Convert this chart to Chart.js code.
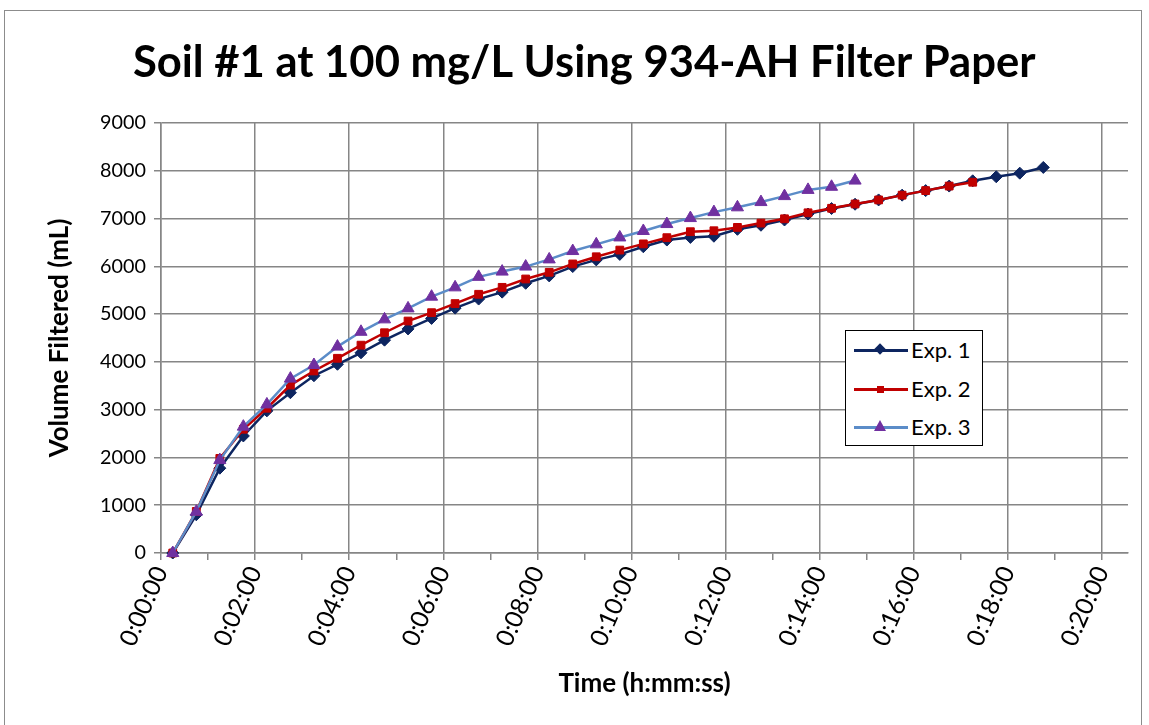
<!DOCTYPE html>
<html>
<head>
<meta charset="utf-8">
<title>Soil #1 at 100 mg/L Using 934-AH Filter Paper</title>
<script src="https://cdn.jsdelivr.net/npm/chart.js@4.4.1/dist/chart.umd.min.js"></script>
<style>
  body { margin: 0; background: #fff; }
  .chart-frame { position: relative; width: 1149px; height: 725px; overflow: hidden; background: #fff; }
  .chart-border { position: absolute; left: 4px; top: 10px; width: 1138px; height: 740px; border: 1.5px solid #8c8c8c; box-sizing: border-box; }
  #filterChart { position: absolute; left: 0; top: 0; }
  .legend-box { position: absolute; left: 845px; top: 330px; width: 138px; height: 116px; border: 1.5px solid #000; background: #fff; box-sizing: border-box; font-family: Lato, sans-serif; font-size: 22px; color: #000; }
  .legend-row { position: relative; height: 38.5px; }
  .legend-line { position: absolute; left: 8px; top: 18px; width: 54px; height: 3px; }
  .legend-marker { position: absolute; }
  .legend-text { position: absolute; left: 65px; top: 6px; line-height: 26px; white-space: nowrap; }
</style>
</head>
<body>
<div class="chart-frame">
  <div class="chart-border"></div>
  <canvas id="filterChart" width="1149" height="725"></canvas>
  <div class="legend-box"></div>
</div>
<script>
// elapsed time of each reading (h:mm:ss)
const elapsedTime = ['0:00:15', '0:00:45', '0:01:15', '0:01:45', '0:02:15', '0:02:45', '0:03:15', '0:03:45',
  '0:04:15', '0:04:45', '0:05:15', '0:05:45', '0:06:15', '0:06:45', '0:07:15', '0:07:45', '0:08:15', '0:08:45',
  '0:09:15', '0:09:45', '0:10:15', '0:10:45', '0:11:15', '0:11:45', '0:12:15', '0:12:45', '0:13:15', '0:13:45',
  '0:14:15', '0:14:45', '0:15:15', '0:15:45', '0:16:15', '0:16:45', '0:17:15', '0:17:45', '0:18:15', '0:18:45'];

// volume filtered (mL) for each experiment
const exp1Volume = [0, 800, 1775, 2450, 2975, 3355, 3710, 3950, 4190, 4455,
  4690, 4910, 5125, 5315, 5460, 5645, 5800, 5995, 6135, 6250,
  6410, 6550, 6605, 6630, 6775, 6860, 6970, 7095, 7210, 7300,
  7390, 7490, 7585, 7680, 7790, 7875, 7950, 8070];
const exp2Volume = [0, 870, 1980, 2590, 3030, 3515, 3810, 4075, 4350, 4610,
  4855, 5030, 5220, 5415, 5560, 5735, 5875, 6050, 6200, 6340,
  6470, 6600, 6725, 6745, 6815, 6905, 6995, 7120, 7215, 7305,
  7390, 7490, 7585, 7680, 7760];
const exp3Volume = [0, 865, 1945, 2645, 3110, 3650, 3935, 4320, 4630, 4890,
  5120, 5365, 5560, 5780, 5890, 5995, 6145, 6320, 6460, 6605,
  6740, 6885, 7010, 7135, 7235, 7345, 7470, 7600, 7665, 7795];

const seriesNames = ['Exp. 1', 'Exp. 2', 'Exp. 3'];
const timeTickLabels = ['0:00:00', '0:02:00', '0:04:00', '0:06:00', '0:08:00', '0:10:00',
  '0:12:00', '0:14:00', '0:16:00', '0:18:00', '0:20:00'];
const volumeTicks = [0, 1000, 2000, 3000, 4000, 5000, 6000, 7000, 8000, 9000];

const gridColor = '#868686';
const fontFamily = 'Lato, sans-serif';

// convert h:mm:ss into minutes
function toMinutes(str) {
  const parts = str.split(':').map(Number);
  return parts[0] * 60 + parts[1] + parts[2] / 60;
}

function toPoints(volumes) {
  return volumes.map((v, i) => ({ x: toMinutes(elapsedTime[i]), y: v }));
}

// pick a font size so a text gets roughly the width it has in the original
function fitFontSize(text, weight, targetWidth) {
  const ctx = document.createElement('canvas').getContext('2d');
  ctx.font = `${weight} 100px ${fontFamily}`;
  return Math.round(1000 * targetWidth / ctx.measureText(text).width) / 10;
}

const titleSize = fitFontSize('Soil #1 at 100 mg/L Using 934-AH Filter Paper', 'bold', 903);
const axisTitleSize = fitFontSize('Time (h:mm:ss)', 'bold', 172);
const yTickSize = fitFontSize('9000', 'normal', 46);
const xTickSize = fitFontSize('0:02:00', 'normal', 84);

const titlePadTop = 63 - titleSize * 0.6;
const titlePadBottom = 123 - titlePadTop - titleSize * 1.2;
const padLeft = 60 - (axisTitleSize * 0.6 + 4);
const padBottom = 725 - 684 - (axisTitleSize * 0.6 + 4);

const datasets = [
  {
    label: seriesNames[0],
    data: toPoints(exp1Volume),
    borderColor: '#0d2560',
    backgroundColor: '#0d2560',
    pointStyle: 'rectRot',
    pointRadius: 6,
    order: 3
  },
  {
    label: seriesNames[1],
    data: toPoints(exp2Volume),
    borderColor: '#c00000',
    backgroundColor: '#c00000',
    pointStyle: 'rect',
    pointRadius: 5.5,
    order: 2
  },
  {
    label: seriesNames[2],
    data: toPoints(exp3Volume),
    borderColor: '#5b8cc8',
    backgroundColor: '#7030a0',
    pointBorderColor: '#7030a0',
    pointStyle: 'triangle',
    pointRadius: 7,
    order: 1
  }
];

datasets.forEach(ds => {
  ds.borderWidth = 2.5;
  ds.pointBorderWidth = 1;
  ds.tension = 0;
  ds.clip = false;
});

const chartConfigs = {
  type: 'line',
  data: { datasets: datasets },
  options: {
    responsive: false,
    animation: false,
    layout: { padding: { left: padLeft, right: 21, top: 0, bottom: padBottom } },
    plugins: {
      legend: { display: false },
      tooltip: { enabled: false },
      title: {
        display: true,
        text: 'Soil #1 at 100 mg/L Using 934-AH Filter Paper',
        color: '#000',
        font: { family: fontFamily, size: titleSize, weight: 'bold' },
        padding: { top: titlePadTop, bottom: titlePadBottom }
      }
    },
    scales: {
      x: {
        type: 'linear',
        min: 0,
        max: 20.55,
        afterFit: scale => { scale.height = 725 - padBottom - 553; },
        ticks: {
          stepSize: 1,
          includeBounds: false,
          autoSkip: false,
          minRotation: 66,
          maxRotation: 66,
          padding: 2,
          color: '#000',
          font: { family: fontFamily, size: xTickSize },
          callback: value => (value % 2 === 0 ? timeTickLabels[value / 2] : '')
        },
        grid: {
          color: c => (c.tick && c.tick.value % 2 === 0 ? gridColor : 'rgba(0,0,0,0)'),
          tickColor: gridColor,
          lineWidth: 1.5,
          tickLength: 7
        },
        border: { color: gridColor, width: 1.5 },
        title: {
          display: true,
          text: 'Time (h:mm:ss)',
          color: '#000',
          font: { family: fontFamily, size: axisTitleSize, weight: 'bold' }
        }
      },
      y: {
        min: 0,
        max: 9000,
        afterFit: scale => { scale.width = 161 - padLeft; },
        afterBuildTicks: scale => { scale.ticks = volumeTicks.map(v => ({ value: v })); },
        ticks: {
          padding: 8,
          color: '#000',
          font: { family: fontFamily, size: yTickSize },
          callback: value => String(value)
        },
        grid: { color: gridColor, lineWidth: 1.5, tickLength: 7 },
        border: { color: gridColor, width: 1.5 },
        title: {
          display: true,
          text: 'Volume Filtered (mL)',
          color: '#000',
          font: { family: fontFamily, size: axisTitleSize, weight: 'bold' }
        }
      }
    }
  }
};

const filterChart = new Chart(document.getElementById('filterChart'), chartConfigs);

// legend drawn as html over the plot, like the boxed legend in the original
function buildLegend(chart) {
  const markerCss = [
    'left:30px;top:14px;width:8px;height:8px;transform:rotate(45deg);background:#0d2560;',
    'left:31px;top:16px;width:7px;height:7px;background:#c00000;',
    'left:28px;top:12px;width:0;height:0;border-left:6px solid transparent;border-right:6px solid transparent;border-bottom:11px solid #7030a0;'
  ];
  const box = document.querySelector('.legend-box');
  chart.data.datasets.forEach((ds, i) => {
    const row = document.createElement('div');
    row.className = 'legend-row';
    row.innerHTML =
      `<div class="legend-line" style="background:${ds.borderColor}"></div>` +
      `<div class="legend-marker" style="${markerCss[i]}"></div>` +
      `<div class="legend-text">${ds.label}</div>`;
    box.appendChild(row);
  });
}

buildLegend(filterChart);
</script>
</body>
</html>
